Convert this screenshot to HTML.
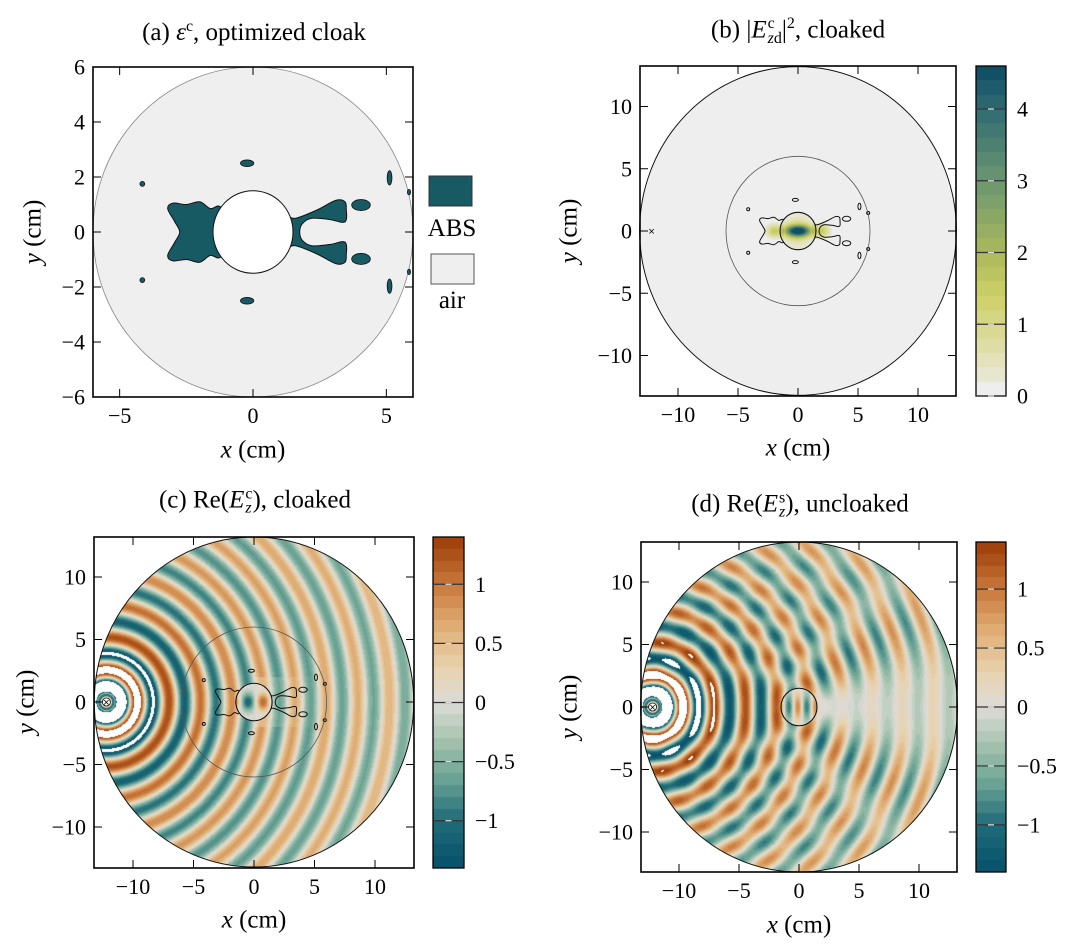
<!DOCTYPE html>
<html><head><meta charset="utf-8">
<style>
body{margin:0;background:#fff;width:1086px;height:949px;position:relative;overflow:hidden;font-family:"Liberation Serif",serif;}
canvas{position:absolute;}
.t{position:absolute;font-size:25px;white-space:nowrap;transform:translate(-50%,-50%);line-height:1;}
.yl{position:absolute;font-size:25px;white-space:nowrap;transform:translate(-50%,-50%) rotate(-90deg);line-height:1;}
.ss{display:inline-block;vertical-align:middle;line-height:0.9;font-size:16px;text-align:left;margin-left:1px;}
sup{font-size:16px;}
</style></head>
<body>
<canvas id="cvb"></canvas>
<canvas id="cvc"></canvas>
<canvas id="cvd"></canvas>
<canvas id="cbb"></canvas>
<canvas id="cbc"></canvas>
<canvas id="cbd"></canvas>
<svg id="s" width="1086" height="949" style="position:absolute;left:0;top:0"></svg>

<div class="t" style="left:254px;top:32px">(a) <i>ε</i><sup>c</sup>, optimized cloak</div>
<div class="t" style="left:798px;top:31px">(b) |<i>E</i><span class="ss">c<br><i>z</i>d</span>|<sup>2</sup>, cloaked</div>
<div class="t" style="left:255px;top:502px">(c) Re(<i>E</i><span class="ss">c<br><i>z</i></span>), cloaked</div>
<div class="t" style="left:800px;top:506px">(d) Re(<i>E</i><span class="ss">s<br><i>z</i></span>), uncloaked</div>

<div class="t" style="left:253px;top:450px"><i>x</i> (cm)</div>
<div class="t" style="left:798px;top:448px"><i>x</i> (cm)</div>
<div class="t" style="left:254px;top:920px"><i>x</i> (cm)</div>
<div class="t" style="left:799px;top:925px"><i>x</i> (cm)</div>
<div class="yl" style="left:33px;top:232px"><i>y</i> (cm)</div>
<div class="yl" style="left:569px;top:231px"><i>y</i> (cm)</div>
<div class="yl" style="left:26px;top:702px"><i>y</i> (cm)</div>
<div class="yl" style="left:569px;top:707px"><i>y</i> (cm)</div>

<script>
// ---- data ----
const xTicksA=[-5,0,5];
const yTicksA=[-6,-4,-2,0,2,4,6];
const xTicksBig=[-10,-5,0,5,10];
const yTicksBig=[-10,-5,0,5,10];
const cbTicksB=[0,1,2,3,4];
const cbTicksRe=[-1,-0.5,0,0.5,1];
const cbLabelsRe=["−1","−0.5","0","0.5","1"];
const cbRangeB=[0,4.6];
const cbRangeRe=[-1.4,1.4];
const wavelength=[2.6];
const sourcePos=[-12.2,0];
const domainRadius=[13.2];
const cloakRadius=[6];
const objectRadius=[1.5];
const leftBlob=[[-1.2,0.9],[-1.6,0.85],[-2.0,1.1],[-2.5,1.0],[-3.0,1.05],[-3.2,0.85],[-2.95,0.4],[-2.75,0],[-2.95,-0.4],[-3.2,-0.85],[-3.0,-1.05],[-2.5,-1.0],[-2.0,-1.1],[-1.6,-0.85],[-1.2,-0.9],[-0.8,0]];
const rightBlob=[[1.2,0.55],[1.6,0.5],[2.4,0.8],[3.1,1.15],[3.45,1.1],[3.5,0.8],[3.5,0.45],[3.35,0.35],[2.9,0.45],[2.2,0.5],[1.85,0.3],[1.75,0],[1.85,-0.3],[2.2,-0.5],[2.9,-0.45],[3.35,-0.35],[3.5,-0.45],[3.5,-0.8],[3.45,-1.1],[3.1,-1.15],[2.4,-0.8],[1.6,-0.5],[1.2,-0.55],[0.8,0]];
const islandsX=[-0.22,-0.22,4.05,4.05,-4.15,-4.15,5.12,5.12,5.85,5.85];
const islandsY=[2.5,-2.5,0.98,-0.98,1.75,-1.75,1.97,-1.97,1.45,-1.45];
const islandsRx=[0.25,0.25,0.35,0.35,0.09,0.09,0.09,0.09,0.06,0.06];
const islandsRy=[0.12,0.12,0.2,0.2,0.09,0.09,0.26,0.26,0.1,0.1];

const P={
 a:{l:93,t:67,r:413,b:397,x0:253,sx:26.67,y0:232,sy:27.5},
 b:{l:640,t:66,r:956,b:396,x0:798,sx:12,y0:231,sy:12.45},
 c:{l:94,t:537,r:414,b:868,x0:254,sx:12.1,y0:702,sy:12.5},
 d:{l:641,t:542,r:957,b:872,x0:799,sx:12,y0:707,sy:12.5}
};
const CB={b:{l:976,t:66,r:1006,b:396},c:{l:433,t:537,r:464,b:868},d:{l:976,t:542,r:1006,b:872}};
function X(p,x){return p.x0+x*p.sx}
function Y(p,y){return p.y0-y*p.sy}
const NS="http://www.w3.org/2000/svg";
const svg=document.getElementById('s');
function mk(tag,attrs,name,parent){
 const e=document.createElementNS(NS,tag);
 for(const k in attrs)e.setAttribute(k,attrs[k]);
 
 
 (parent||svg).appendChild(e);return e;
}
function hex(h){return[parseInt(h.substr(1,2),16),parseInt(h.substr(3,2),16),parseInt(h.substr(5,2),16)]}
function interp(stops,v){
 if(v<=stops[0][0])return hex(stops[0][1]);
 for(let i=1;i<stops.length;i++){if(v<=stops[i][0]){const a=stops[i-1],b=stops[i];const f=(v-a[0])/(b[0]-a[0]);const c1=hex(a[1]),c2=hex(b[1]);return[0,1,2].map(j=>Math.round(c1[j]+(c2[j]-c1[j])*f));}}
 return hex(stops[stops.length-1][1]);
}
const reStops=[[-1.4,'#07506a'],[-1.0,'#1f6b78'],[-0.65,'#6aa396'],[-0.3,'#a9c5b0'],[0,'#dddcd8'],[0.3,'#e8d2ad'],[0.65,'#dfad74'],[1.0,'#c8773b'],[1.4,'#9a3c06']];
const bStops=[[0,'#eeeeee'],[0.8,'#dcdb9c'],[1.4,'#cdd066'],[2.0,'#abb85c'],[3.0,'#6b9670'],[4.0,'#2f6b72'],[4.6,'#0c4b63']];
function cmRe(v){if(v>cbRangeRe[1]||v<cbRangeRe[0])return[255,255,255];const st=0.1;const q=Math.min(Math.floor(v/st)*st+st/2,1.35);return interp(reStops,q);}
function cmB(v){const st=0.2;if(v<st)return hex('#eeeeee');const q=Math.min(Math.floor(v/st)*st+st/2,4.5);return interp(bStops,q);}

const k=2*Math.PI/wavelength[0];
function inc(x,y){const r=Math.max(Math.hypot(x-sourcePos[0],y-sourcePos[1]),0.05);return 2.9*Math.cos(k*r)/Math.sqrt(r);}
function fc(x,y){const rho=Math.hypot(x,y);
 if(rho<objectRadius[0])return 1.1*Math.sin(Math.PI*(x-0.13)/1.25)*Math.exp(-y*y/0.5);
 let v=inc(x,y);
 if(rho<cloakRadius[0]-0.5&&Math.abs(y)<2&&x>0)v*=0.7+0.3*Math.abs(x)/6;
 return v;}
function fd(x,y){const rho=Math.hypot(x,y);
 if(rho<objectRadius[0])return 0.9*Math.cos(Math.PI*(x+0.1)/0.75)*Math.exp(-y*y/1.2);
 const th=Math.atan2(y,x);
 const rs=sourcePos[0]*-1+rho;
 const f=0.8*Math.exp(-th*th/0.3)+0.55;
 const s=-2.9*Math.cos(k*rs)/Math.sqrt(rs)*f*Math.sqrt(12.2/(rho+1.5))*0.45;
 return inc(x,y)+s;}
function fb(x,y){const rho=Math.hypot(x,y);
 let v=0;
 if(rho<objectRadius[0])v=4.6*Math.exp(-x*x/1.1-y*y/0.2)+0.9*Math.exp(-rho*rho/1.5);
 const ax=Math.abs(x);
 if(ax>1.2)v+=1.6*Math.exp(-((ax-1.9)*(ax-1.9))/0.45-y*y/0.25);
 return v;}

function drawField(id,p,fn,cm){
 const c=document.getElementById(id);const w=p.r-p.l,h=p.b-p.t;
 c.width=w;c.height=h;c.style.left=p.l+'px';c.style.top=p.t+'px';
 const ctx=c.getContext('2d');const im=ctx.createImageData(w,h);const R=domainRadius[0];
 for(let j=0;j<h;j++)for(let i=0;i<w;i++){
  const x=(p.l+i+0.5-p.x0)/p.sx,y=(p.y0-(p.t+j+0.5))/p.sy;
  let col=[255,255,255];
  if(x*x+y*y<=R*R)col=cm(fn(x,y));
  const o=(j*w+i)*4;im.data[o]=col[0];im.data[o+1]=col[1];im.data[o+2]=col[2];im.data[o+3]=255;}
 ctx.putImageData(im,0,0);
}
drawField('cvb',P.b,fb,cmB);
drawField('cvc',P.c,fc,cmRe);
drawField('cvd',P.d,fd,cmRe);

function drawCB(id,b,range,cm){
 const c=document.getElementById(id);const w=b.r-b.l,h=b.b-b.t;
 c.width=w;c.height=h;c.style.left=b.l+'px';c.style.top=b.t+'px';
 const ctx=c.getContext('2d');
 for(let j=0;j<h;j++){const v=range[1]-(j+0.5)/h*(range[1]-range[0]);const col=cm(Math.max(Math.min(v,range[1]-1e-6),range[0]+1e-6));ctx.fillStyle=`rgb(${col})`;ctx.fillRect(0,j,w,1);}
}
drawCB('cbb',CB.b,cbRangeB,cmB);
drawCB('cbc',CB.c,cbRangeRe,cmRe);
drawCB('cbd',CB.d,cbRangeRe,cmRe);

const defs=mk('defs',{},'defs');
['b','c'].forEach(n=>{const p=P[n];
 const m=mk('mask',{id:'m'+n},'object-mask',defs);
 mk('rect',{x:0,y:0,width:1086,height:949,fill:'#fff'},'mask-bg',m);
 mk('ellipse',{cx:X(p,0),cy:Y(p,0),rx:objectRadius[0]*p.sx,ry:objectRadius[0]*p.sy,fill:'#000'},'mask-hole',m);});

function smooth(p,pts){
 const q=pts.map(a=>[X(p,a[0]),Y(p,a[1])]);const n=q.length;
 let d=`M${q[0][0].toFixed(1)},${q[0][1].toFixed(1)}`;
 for(let i=0;i<n;i++){const p0=q[(i-1+n)%n],p1=q[i],p2=q[(i+1)%n],p3=q[(i+2)%n];
  const c1=[p1[0]+(p2[0]-p0[0])/6,p1[1]+(p2[1]-p0[1])/6],c2=[p2[0]-(p3[0]-p1[0])/6,p2[1]-(p3[1]-p1[1])/6];
  d+=`C${c1[0].toFixed(1)},${c1[1].toFixed(1)} ${c2[0].toFixed(1)},${c2[1].toFixed(1)} ${p2[0].toFixed(1)},${p2[1].toFixed(1)}`;}
 return d+'Z';}

(function(){const p=P.a;
 mk('ellipse',{cx:X(p,0),cy:Y(p,0),rx:6*p.sx,ry:6*p.sy,fill:'#efefef',stroke:'#888','stroke-width':0.8},'design-domain');
 mk('path',{d:smooth(p,leftBlob),fill:'#175a64',stroke:'#111','stroke-width':1},'abs-region-left');
 mk('path',{d:smooth(p,rightBlob),fill:'#175a64',stroke:'#111','stroke-width':1},'abs-region-right');
 for(let i=0;i<islandsX.length;i++){
  mk('ellipse',{cx:X(p,islandsX[i]),cy:Y(p,islandsY[i]),rx:islandsRx[i]*p.sx,ry:islandsRy[i]*p.sy,fill:'#175a64',stroke:'#111','stroke-width':0.8},'abs-island');}
 mk('ellipse',{cx:X(p,0),cy:Y(p,0),rx:objectRadius[0]*p.sx,ry:objectRadius[0]*p.sy,fill:'#fff',stroke:'#111','stroke-width':1},'cloaked-object');
 mk('rect',{x:429,y:176,width:43,height:30,fill:'#175a64',stroke:'#333','stroke-width':1},'legend-swatch-abs');
 const t1=mk('text',{x:452,y:236,'font-size':25,'text-anchor':'middle','font-family':'Liberation Serif'},'legend-label-abs');t1.textContent='ABS';
 mk('rect',{x:431,y:254,width:43,height:30,fill:'#efefef',stroke:'#555','stroke-width':1},'legend-swatch-air');
 const t2=mk('text',{x:452,y:308,'font-size':25,'text-anchor':'middle','font-family':'Liberation Serif'},'legend-label-air');t2.textContent='air';
})();

function outlines(n){const p=P[n];
 const g=mk('g',{mask:'url(#m'+n+')',fill:'none',stroke:'#111','stroke-width':1},'contour-outlines');
 mk('path',{d:smooth(p,leftBlob)},'contour-left',g);
 mk('path',{d:smooth(p,rightBlob)},'contour-right',g);
 for(let i=0;i<islandsX.length;i++){mk('ellipse',{cx:X(p,islandsX[i]),cy:Y(p,islandsY[i]),rx:Math.max(islandsRx[i]*p.sx,1.5),ry:Math.max(islandsRy[i]*p.sy,1.5)},'contour-island',g);}
 mk('ellipse',{cx:X(p,0),cy:Y(p,0),rx:cloakRadius[0]*p.sx,ry:cloakRadius[0]*p.sy,fill:'none',stroke:'#555','stroke-width':0.8},'cloak-boundary');
}
outlines('b');outlines('c');
['b','c','d'].forEach(n=>{const p=P[n];
 mk('ellipse',{cx:X(p,0),cy:Y(p,0),rx:objectRadius[0]*p.sx,ry:objectRadius[0]*p.sy,fill:'none',stroke:'#111','stroke-width':1.1},'object-boundary');
 mk('ellipse',{cx:X(p,0),cy:Y(p,0),rx:domainRadius[0]*p.sx,ry:domainRadius[0]*p.sy,fill:'none',stroke:'#111','stroke-width':1},'domain-boundary');
});
(function(){const p=P.b;const t=mk('text',{x:X(p,sourcePos[0]),y:Y(p,sourcePos[1])+4,'font-size':11,'text-anchor':'middle','font-family':'Liberation Sans'},'source-marker');t.textContent='×';})();
['c','d'].forEach(n=>{const p=P[n];const cx=X(p,sourcePos[0]),cy=Y(p,sourcePos[1]);
 mk('circle',{cx:cx,cy:cy,r:7,fill:'#e4c49a',stroke:'#2f7a80','stroke-width':2.5},'source-ring');
 mk('circle',{cx:cx,cy:cy,r:4,fill:'#fff',stroke:'#111','stroke-width':0.8},'source-core');
 const t=mk('text',{x:cx,y:cy+4,'font-size':11,'text-anchor':'middle','font-family':'Liberation Sans'},'source-marker');t.textContent='×';});

function fmt(v){return v<0?'−'+Math.abs(v):String(v);}
function axes(n,xt,yt){const p=P[n];
 mk('rect',{x:p.l,y:p.t,width:p.r-p.l,height:p.b-p.t,fill:'none',stroke:'#000','stroke-width':1.6},'axes-frame');
 xt.forEach(v=>{const x=X(p,v);
  mk('line',{x1:x,y1:p.b,x2:x,y2:p.b-8,stroke:'#000','stroke-width':1},'x-tick');
  mk('line',{x1:x,y1:p.t,x2:x,y2:p.t+8,stroke:'#000','stroke-width':1},'x-tick-top');
  const t=mk('text',{x:x,y:p.b+26,'font-size':22,'text-anchor':'middle','font-family':'Liberation Serif'},'x-tick-label');t.textContent=fmt(v);});
 yt.forEach(v=>{const y=Y(p,v);
  mk('line',{x1:p.l,y1:y,x2:p.l+8,y2:y,stroke:'#000','stroke-width':1},'y-tick');
  mk('line',{x1:p.r,y1:y,x2:p.r-8,y2:y,stroke:'#000','stroke-width':1},'y-tick-right');
  const t=mk('text',{x:p.l-8,y:y+7.5,'font-size':22,'text-anchor':'end','font-family':'Liberation Serif'},'y-tick-label');t.textContent=fmt(v);});
}
axes('a',xTicksA,yTicksA);axes('b',xTicksBig,yTicksBig);axes('c',xTicksBig,yTicksBig);axes('d',xTicksBig,yTicksBig);

function cbAxis(n,range,ticks,labels){const b=CB[n];
 mk('rect',{x:b.l,y:b.t,width:b.r-b.l,height:b.b-b.t,fill:'none',stroke:'#000','stroke-width':1.3},'colorbar-frame');
 ticks.forEach((v,i)=>{const y=b.b-(v-range[0])/(range[1]-range[0])*(b.b-b.t);
  mk('line',{x1:b.l,y1:y,x2:b.r,y2:y,stroke:'#333','stroke-width':1.2},'colorbar-level');
  mk('line',{x1:b.l+(b.r-b.l)*0.4,y1:y,x2:b.l+(b.r-b.l)*0.6,y2:y,stroke:'#ddd','stroke-width':1.2},'colorbar-level-dash');
  const t=mk('text',{x:b.r+11,y:y+7.5,'font-size':22,'font-family':'Liberation Serif'},'colorbar-tick-label');t.textContent=labels[i];});
}
cbAxis('b',cbRangeB,cbTicksB,cbTicksB.map(String));
cbAxis('c',cbRangeRe,cbTicksRe,cbLabelsRe);
cbAxis('d',cbRangeRe,cbTicksRe,cbLabelsRe);
</script>
</body></html>
